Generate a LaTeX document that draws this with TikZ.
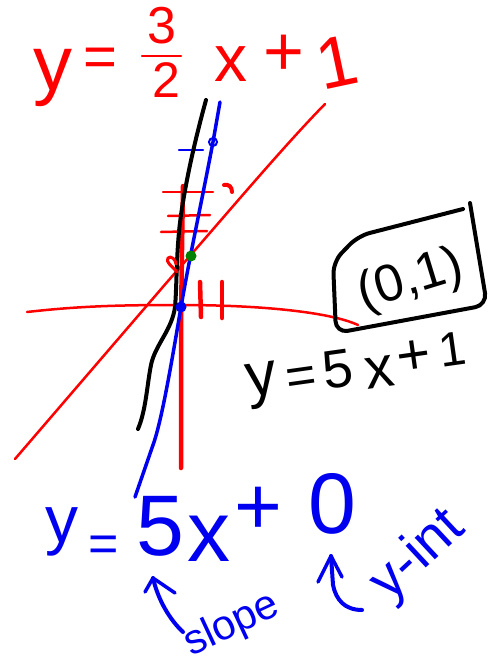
\documentclass[tikz,border=0pt]{standalone}
\usepackage{fontspec}
\setmainfont{Liberation Sans}
\definecolor{penred}{RGB}{255,0,0}
\definecolor{penblue}{RGB}{0,0,240}
\definecolor{pengreen}{RGB}{0,128,0}
\tikzset{
  redpen/.style={draw=penred, line width=2.5pt, line cap=round, line join=round},
  redthick/.style={draw=penred, line width=4.5pt, line cap=round},
  bluepen/.style={draw=penblue, line width=3.5pt, line cap=round, line join=round},
  blackpen/.style={draw=black, line width=4pt, line cap=round, line join=round},
  glyph/.style={inner sep=0pt, outer sep=0pt},
  redtxt/.style={glyph, text=penred},
  bluetxt/.style={glyph, text=penblue},
  blacktxt/.style={glyph, text=black},
}
\newcommand{\fs}[1]{\fontsize{#1}{#1}\selectfont}
\begin{document}
\begin{tikzpicture}[x=1pt,y=-1pt]
\useasboundingbox (0,0) rectangle (495,666);

% ---------- axes ----------
\draw[redpen] (27,312) .. controls (80,306) and (120,305) .. (180,305)
  .. controls (260,305) and (330,312) .. (358,325);
\draw[redthick] (183,186) -- (182,250) -- (181,320) -- (181,468);
% tick marks on y-axis
\draw[redpen] (163,192) -- (213,192);
\draw[redpen] (168,216) -- (210,215);
\draw[redpen] (161,232) -- (207,231);
\draw[bluepen, line width=2.5pt] (179,150) -- (203,150);
% tick marks on x-axis
\draw[redthick] (200,282) -- (201,317);
\draw[redthick] (222,282) -- (222,318);

% ---------- red line y = 3/2 x + 1 ----------
\draw[redpen] (15,459) -- (168,281) .. controls (220,222) and (280,150) .. (325,104);

% ---------- black line y = 5x+1 ----------
\draw[blackpen] (206,100) .. controls (195,140) and (186,180) .. (181,215)
  .. controls (176,250) and (177,285) .. (175,307)
  .. controls (172,330) and (155,345) .. (151,365)
  .. controls (147,385) and (146,410) .. (138,429);

% ---------- blue line y = 5x ----------
\draw[bluepen] (220,102) -- (213,142) .. controls (200,210) and (190,255) .. (181,307)
  .. controls (172,360) and (162,420) .. (153,445) -- (135,497);
\draw[penblue, line width=2pt] (213,142) circle (4);

% ---------- dots & marks ----------
\fill[penblue] (181,307) circle (5.5);
\fill[pengreen] (191,256) circle (5.5);
\draw[redthick, line width=4pt] (224,185) .. controls (229,184) and (232,187) .. (232,192);
\draw[redpen, line width=3pt] (177,272) .. controls (172,266) and (165,262) .. (168,258)
  .. controls (171,255) and (176,260) .. (176,264);

% ---------- top red equation ----------
\node[redtxt, font=\fs{78}] (ry) at (53,78) {y};
\node[redtxt, font=\fs{58}] (req) at (100,62) {=};
\node[redtxt, font=\fs{52}] (rthree) at (162,26) {3};
\draw[redpen] (142,56) -- (181,56);
\node[redtxt, font=\fs{50}] (rtwo) at (166,80) {2};
\node[redtxt, font=\fs{66}] (rx) at (231,64) {x};
\node[redtxt, font=\fs{70}] (rplus) at (284,55) {+};
\node[redtxt, font=\fs{72}, rotate=12] (rone) at (337,62) {1};

% ---------- boxed point ----------
\draw[blackpen, rounded corners=12] (463,209) -- (358,236) -- (333,262)
  -- (336,333) -- (487,305) -- (470,203);
\node[blacktxt, font=\fs{52}, rotate=17] (pt) at (411,281) {(0,1)};

% ---------- black equation ----------
\node[blacktxt, font=\fs{62}, rotate=8] (by) at (262,385) {y};
\node[blacktxt, font=\fs{52}, rotate=8] (beq) at (302,381) {=};
\node[blacktxt, font=\fs{54}, rotate=8] (bfive) at (338,369) {5};
\node[blacktxt, font=\fs{58}, rotate=8] (bx) at (380,372) {x};
\node[blacktxt, font=\fs{58}, rotate=8] (bplus) at (414,358) {+};
\node[blacktxt, font=\fs{48}, rotate=8] (bone) at (452,349) {1};

% ---------- blue equation ----------
\node[bluetxt, font=\fs{66}] (uy) at (62,532) {y};
\node[bluetxt, font=\fs{52}] (ueq) at (104,549) {=};
\node[bluetxt, font=\fs{86}] (ufive) at (160,526) {5};
\node[bluetxt, font=\fs{86}] (ux) at (209,539) {x};
\node[bluetxt, font=\fs{82}] (uplus) at (258,511) {+};
\node[bluetxt, font=\fs{86}] (uzero) at (332,504) {0};

% ---------- annotations ----------
\coordinate (s0) at (183,632);
\coordinate (s1) at (153,578);
\draw[bluepen, line width=4pt] (s0) .. controls (170,620) and (158,600) .. (s1);
\draw[bluepen] (145,592) -- (s1) -- (175,593);
\node[bluetxt, font=\fs{42}, rotate=25] (slope) at (232,625) {slope};

\coordinate (i0) at (362,610);
\coordinate (i1) at (331,556);
\draw[bluepen, line width=4pt] (i0) .. controls (345,610) and (336,600) .. (333,585) -- (i1);
\draw[bluepen] (318,582) -- (i1) -- (342,577);
\node[bluetxt, font=\fs{56}, rotate=43] (yint) at (418,556) {y-int};
\end{tikzpicture}
\end{document}
